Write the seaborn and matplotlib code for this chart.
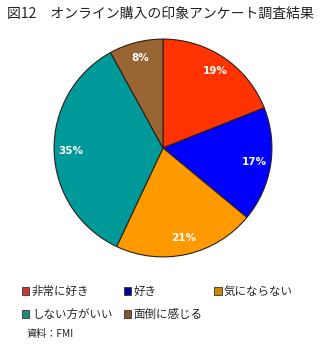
import matplotlib
matplotlib.use("Agg")
import matplotlib.pyplot as plt
import seaborn as sns
from matplotlib.patches import Patch

sns.set_theme(style="white")
plt.rcParams['font.family'] = ['Noto Sans CJK JP', 'DejaVu Sans']

categories = ["非常に好き", "好き", "気にならない", "しない方がいい", "面倒に感じる"]
values = [19, 17, 21, 35, 8]
slice_colors = ["#FF3300", "#0000FF", "#FF9900", "#009999", "#996633"]
legend_colors = ["#CC3333", "#0000AA", "#CC8800", "#228877", "#885533"]
title = "図12　オンライン購入の印象アンケート調査結果"
source = "資料：FMI"

fig = plt.figure(figsize=(3.28, 3.46), dpi=100)
fig.patch.set_facecolor("white")

W, H = 328, 346
cx, cy, r = 163, 148, 110
ax = fig.add_axes([(cx - r) / W, (H - cy - r) / H, 2 * r / W, 2 * r / H])
wedges, texts, autotexts = ax.pie(
    values, colors=slice_colors, startangle=90, counterclock=False,
    autopct="%d%%", pctdistance=0.85,
    wedgeprops=dict(edgecolor="#2a2018", linewidth=0.8),
    textprops=dict(color="white", fontsize=7.5, fontweight="bold", family="DejaVu Sans"),
)
ax.set_xlim(-1.01, 1.01)
ax.set_ylim(-1.01, 1.01)
ax.set_aspect("equal")
ax.axis("off")

fig.text(7 / W, 1 - 14 / H, title, fontsize=10.0, ha="left", va="center", color="#222222")

handles = [Patch(facecolor=c, edgecolor="#333333", linewidth=0.6) for c in legend_colors]
order = [0, 3, 1, 4, 2]
fig.legend([handles[i] for i in order], [categories[i] for i in order],
           ncol=3, loc="upper left", bbox_to_anchor=(22 / W, 1 - 285 / H),
           frameon=False, fontsize=8.3, handlelength=0.65, handleheight=0.65,
           handletextpad=0.2, columnspacing=1.0, labelspacing=0.85, borderpad=0,
           borderaxespad=0)

fig.text(26 / W, 1 - 334 / H, source, fontsize=7.3, ha="left", va="center", color="#222222")

fig.savefig("out.png", dpi=100)
